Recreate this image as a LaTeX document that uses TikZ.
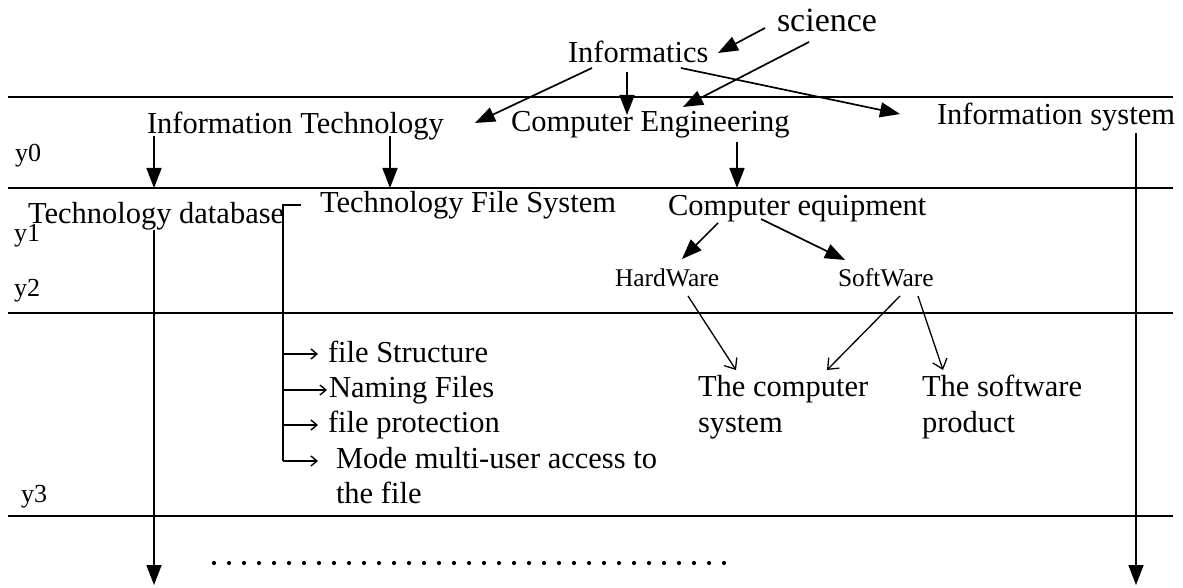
\documentclass[tikz,border=0pt]{standalone}
\usepackage{fontspec}
\setmainfont{Liberation Serif}
\usetikzlibrary{arrows.meta,calc}
\newcommand\fmain{\fontsize{30.5}{36}\selectfont}
\newcommand\fsci{\fontsize{34}{40}\selectfont}
\newcommand\fsmall{\fontsize{25.5}{30}\selectfont}
\newcommand\fylab{\fontsize{26}{30}\selectfont}
\tikzset{
  txt/.style={inner sep=0pt, outer sep=0pt, anchor=base west, font=\fmain},
  ylab/.style={txt, font=\fylab},
  arr/.style={line width=1.7pt, -{Triangle[length=20pt,width=15pt]}},
  oarr/.style={line width=1.3pt, -{Straight Barb[length=9pt,width=15pt]}},
  sarr/.style={line width=1.4pt, -{Straight Barb[length=6pt,width=10pt]}},
  hline/.style={line width=2pt},
}
\begin{document}
\begin{tikzpicture}[x=1pt,y=-1pt]
\useasboundingbox (0,0) rectangle (1183,588);

% horizontal band lines
\coordinate (l1w) at (8,97);   \coordinate (l1e) at (1173,97);
\coordinate (l2w) at (8,188);  \coordinate (l2e) at (1173,188);
\coordinate (l3w) at (8,313);  \coordinate (l3e) at (1173,313);
\coordinate (l4w) at (8,516);  \coordinate (l4e) at (1173,516);
\draw[hline] (l1w) -- (l1e);
\draw[hline] (l2w) -- (l2e);
\draw[hline] (l3w) -- (l3e);
\draw[hline] (l4w) -- (l4e);

% texts
\node[txt, font=\fsci] (sci) at (777,32) {science};
\node[txt] (inf) at (568,63) {Informatics};
\node[txt] (it)  at (147,134) {Information Technology};
\node[txt] (ce)  at (511,132) {Computer Engineering};
\node[txt] (is)  at (937,125) {Information system};
\node[ylab] (y0) at (15,162) {y0};
\node[txt] (tdb) at (28,223) {Technology database};
\node[txt] (tfs) at (320,212) {Technology File System};
\node[txt] (ceq) at (668,215) {Computer equipment};
\node[ylab] (y1) at (14,241) {y1};
\node[txt, font=\fsmall] (hw) at (615,286) {HardWare};
\node[txt, font=\fsmall] (sw) at (838,286) {SoftWare};
\node[ylab] (y2) at (14,296) {y2};
\node[txt] (fs) at (328,362) {file Structure};
\node[txt] (nf) at (329,397) {Naming Files};
\node[txt] (fp) at (328,432) {file protection};
\node[txt] (mm) at (336,468) {Mode multi-user access to};
\node[txt] (mm2) at (336,503) {the file};
\node[ylab] (y3) at (21,502) {y3};
\node[txt] (tc)  at (698,396) {The computer};
\node[txt] (tc2) at (698,432) {system};
\node[txt] (tsp) at (922,396) {The software};
\node[txt] (tsp2) at (922,432) {product};

% arrows at the top
\draw[arr] ($(sci.base west)+(-12,-4)$) -- ($(inf.base west)+(150,-10)$);
\draw[arr] ($(inf.base west)+(24,5)$) -- ($(it.base west)+(328,-11)$);
\draw[arr] ($(inf.base west)+(59,9)$) -- ($(ce.base west)+(116,-17)$);
\draw[arr] ($(sci.base west)+(32,10)$) -- ($(ce.base west)+(172,-25)$);
\draw[arr] ($(inf.base west)+(113,5)$) -- ($(is.base west)+(-37,-11)$);

% downward arrows
\coordinate (itd1) at ($(it.base west)+(7,2)$);
\coordinate (itd2) at ($(it.base west)+(243,2)$);
\draw[arr] (itd1) -- (itd1 |- l2w);
\draw[arr] (itd2) -- (itd2 |- l2w);
\coordinate (ced) at ($(ce.base west)+(226,10)$);
\draw[arr] (ced) -- (ced |- l2w);
\coordinate (isd) at ($(is.base west)+(199,8)$);
\coordinate (bot) at (0,585);
\draw[arr] (isd) -- (isd |- bot);
\coordinate (tdbd) at ($(tdb.base west)+(126,7)$);
\draw[arr] (tdbd) -- (tdbd |- bot);

% computer equipment branch
\draw[arr] ($(ceq.base west)+(50,8)$) -- ($(hw.base west)+(67,-27)$);
\draw[arr] ($(ceq.base west)+(93,4)$) -- ($(sw.base west)+(7,-26)$);
\draw[oarr] ($(hw.base west)+(73,10)$) -- ($(tc.base west)+(38,-26)$);
\draw[oarr] ($(sw.base west)+(62,10)$) -- ($(tc.base west)+(129,-26)$);
\draw[oarr] ($(sw.base west)+(80,10)$) -- ($(tsp.base west)+(21,-26)$);

% file system bracket
\coordinate (brt) at ($(tfs.base west)+(-19,-7)$);
\coordinate (brc) at ($(tfs.base west)+(-37,-7)$);
\coordinate (brb) at ($(mm.base west)+(-53,-7)$);
\draw[line width=1.7pt] (brt) -- (brc) -- (brb);
\draw[sarr] (brb) -- ($(mm.base west)+(-18,-7)$);
\draw[sarr] ($(fs.base west)+(-45,-8)$) -- ($(fs.base west)+(-10,-8)$);
\draw[sarr] ($(nf.base west)+(-46,-7)$) -- ($(nf.base west)+(-2,-7)$);
\draw[sarr] ($(fp.base west)+(-45,-7)$) -- ($(fp.base west)+(-10,-7)$);

% dotted continuation
\foreach \i in {0,...,34} \fill (214+15*\i,563) circle (2.1pt);
\end{tikzpicture}
\end{document}
